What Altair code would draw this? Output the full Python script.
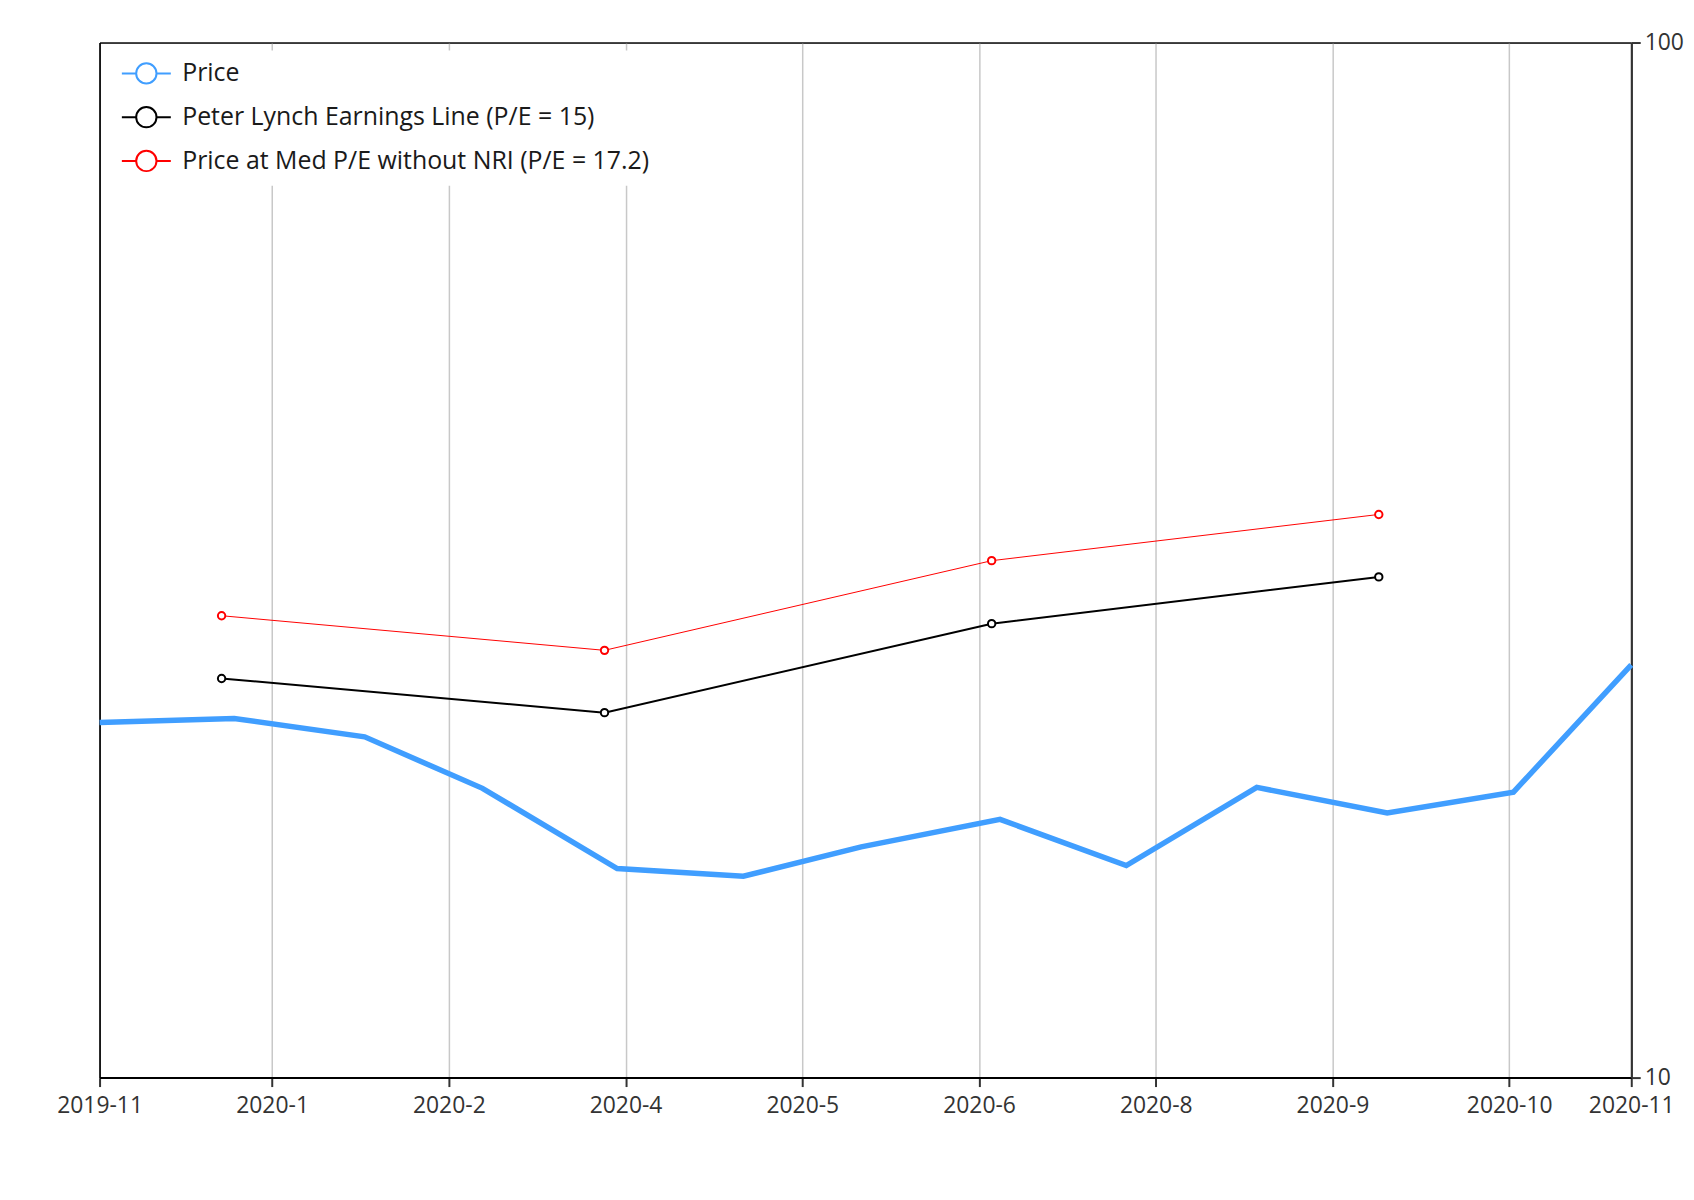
import altair as alt
import pandas as pd

# ---------------- data ----------------
start_date = "2019-11-01"

price_dates = ["2019-11-01", "2019-12-03", "2020-01-03", "2020-01-31", "2020-03-03",
               "2020-04-02", "2020-04-30", "2020-06-02", "2020-07-02", "2020-08-02",
               "2020-09-02", "2020-10-02", "2020-10-30"]
price_values = [22.03, 22.23, 21.34, 19.03, 15.92, 15.65, 16.71, 17.76, 16.03, 19.07,
                18.02, 18.87, 25.05]

earn_dates = ["2019-11-30", "2020-02-29", "2020-05-31", "2020-08-31"]
lynch_values = [24.30, 22.52, 27.45, 30.46]
medpe_values = [27.94, 25.87, 31.58, 35.00]

tick_dates = ["2019-11-01", "2019-12-12", "2020-01-23", "2020-03-05", "2020-04-16",
              "2020-05-28", "2020-07-09", "2020-08-20", "2020-10-01", "2020-10-30"]
tick_labels = ["2019-11", "2020-1", "2020-2", "2020-4", "2020-5",
               "2020-6", "2020-8", "2020-9", "2020-10", "2020-11"]
y_ticks = [10, 100]

series_names = ["Price",
                "Peter Lynch Earnings Line (P/E = 15)",
                "Price at Med P/E without NRI (P/E = 17.2)"]
series_colors = ["#409eff", "#000000", "#ff0000"]

FONT = "Open Sans"


def to_days(dates):
    s = pd.Timestamp(start_date)
    return [(pd.Timestamp(d) - s).days for d in dates]


tick_days = to_days(tick_dates)
x_end = tick_days[-1]

price_df = pd.DataFrame({"day": to_days(price_dates), "value": price_values,
                         "series": series_names[0]})
lynch_df = pd.DataFrame({"day": to_days(earn_dates), "value": lynch_values,
                         "series": series_names[1]})
medpe_df = pd.DataFrame({"day": to_days(earn_dates), "value": medpe_values,
                         "series": series_names[2]})

label_expr = ("[" + ",".join("'%s'" % l for l in tick_labels) + "][indexof(["
              + ",".join(str(d) for d in tick_days) + "], datum.value)]")
edge_test = "datum.value === %d || datum.value === %d" % (tick_days[0], x_end)

x_enc = alt.X(
    "day:Q",
    scale=alt.Scale(domain=[0, x_end], nice=False, zero=False),
    axis=alt.Axis(values=tick_days, labelExpr=label_expr, title=None, grid=True,
                  gridColor={"condition": {"test": edge_test, "value": "#000000"},
                             "value": "#c8c8c8"},
                  gridWidth=1.5, labelPadding=8),
)
y_enc = alt.Y(
    "value:Q",
    scale=alt.Scale(type="log", domain=[10, 100], nice=False),
    axis=alt.Axis(orient="right", values=y_ticks, format="d", title=None, grid=True,
                  gridColor="#000000", gridWidth=1, domainColor="#333333",
                  labelPadding=4, labelFontSize=23),
)

# legend symbol: a short line with an open circle in the middle
legend_symbol = ("M-2.05,0L-0.85,0M0.85,0L2.05,0M-0.85,0"
                 "A0.85,0.85,0,1,1,0.85,0A0.85,0.85,0,1,1,-0.85,0")

legend = alt.Legend(
    title=None,
    orient="none",
    legendX=24,
    legendY=8,
    fillColor="white",
    padding=10,
    labelFont=FONT,
    labelFontSize=25,
    labelColor="#1a1a1a",
    labelLimit=0,
    labelOffset=23,
    rowPadding=14,
    symbolType=legend_symbol,
    symbolSize=576,
    symbolStrokeWidth=2,
    symbolFillColor="white",
)

stroke_enc = alt.Stroke("series:N",
                        scale=alt.Scale(domain=series_names, range=series_colors),
                        legend=legend)

price_line = alt.Chart(price_df).mark_line(strokeWidth=5.5, strokeJoin="miter").encode(
    x=x_enc, y=y_enc, stroke=stroke_enc)
lynch_line = alt.Chart(lynch_df).mark_line(strokeWidth=2).encode(
    x=x_enc, y=y_enc, stroke=stroke_enc)
lynch_pts = alt.Chart(lynch_df).mark_point(filled=True, fill="white", size=55,
                                           strokeWidth=2, opacity=1).encode(
    x=x_enc, y=y_enc, stroke=stroke_enc)
medpe_line = alt.Chart(medpe_df).mark_line(strokeWidth=1).encode(
    x=x_enc, y=y_enc, stroke=stroke_enc)
medpe_pts = alt.Chart(medpe_df).mark_point(filled=True, fill="white", size=55,
                                           strokeWidth=2, opacity=1).encode(
    x=x_enc, y=y_enc, stroke=stroke_enc)

chart = alt.layer(price_line, lynch_line, lynch_pts, medpe_line, medpe_pts).properties(
    width=1539,
    height=1040,
    autosize=alt.AutoSizeParams(type="none"),
    padding={"left": 92, "top": 32, "right": 55, "bottom": 60},
    background="white",
).configure_view(
    stroke="#000000", strokeWidth=1,
).configure_axis(
    labelFont=FONT,
    labelFontSize=23,
    labelColor="#333333",
    tickColor="#333333",
    tickSize=9,
    tickWidth=2,
    domainColor="#000000",
    domainWidth=2,
    labelFlush=False,
    labelOverlap=False,
)

chart.save("out.html", embed_options={"renderer": "svg", "actions": False})
